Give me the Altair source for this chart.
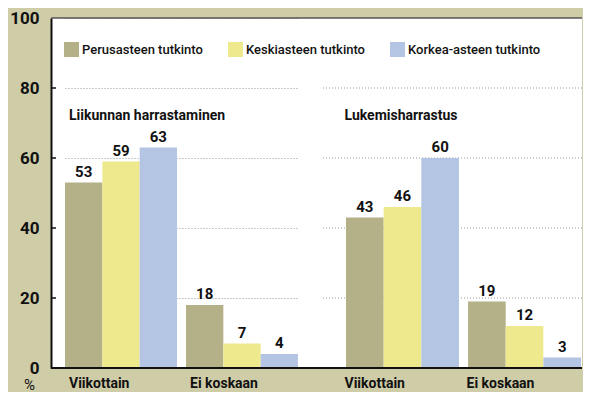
import altair as alt
import pandas as pd

SERIES = ["Perusasteen tutkinto", "Keskiasteen tutkinto", "Korkea-asteen tutkinto"]
COLORS = ["#b4b189", "#eee98d", "#b4c4e3"]
FREQ = ["Viikottain", "Ei koskaan"]
SECTIONS = ["Liikunnan harrastaminen", "Lukemisharrastus"]
LIIKUNTA_VIIKOTTAIN = [53, 59, 63]
LIIKUNTA_EI_KOSKAAN = [18, 7, 4]
LUKEMINEN_VIIKOTTAIN = [43, 46, 60]
LUKEMINEN_EI_KOSKAAN = [19, 12, 3]
Y_TICKS = [0, 20, 40, 60, 80, 100]

FONT = "Roboto"
BG = "#cfcca8"
H = 350


def frame(weekly, never):
    rows = []
    for f, vals in zip(FREQ, [weekly, never]):
        for s, v in zip(SERIES, vals):
            rows.append({"freq": f, "series": s, "value": v})
    return pd.DataFrame(rows)


df_a = frame(LIIKUNTA_VIIKOTTAIN, LIIKUNTA_EI_KOSKAAN)
df_b = frame(LUKEMINEN_VIIKOTTAIN, LUKEMINEN_EI_KOSKAAN)

yscale = alt.Scale(domain=[0, 100], nice=False, zero=True)
legend = alt.Legend(
    orient="none", legendX=13, legendY=24, direction="horizontal", title=None,
    symbolType="square", symbolSize=225, symbolStrokeWidth=0, labelFontSize=13,
    labelFont=FONT, labelFontWeight=500, labelColor="#111", columnPadding=25,
    labelOffset=3, padding=0,
)
color = alt.Color("series:N", scale=alt.Scale(domain=SERIES, range=COLORS), legend=legend)
xoff = alt.XOffset("series:N", scale=alt.Scale(domain=SERIES, paddingInner=0, paddingOuter=0))

y_axis = alt.Axis(
    values=Y_TICKS, title="%", titleAngle=0, titleX=-22, titleY=H + 16,
    titleAlign="center", titleBaseline="middle", titleFontSize=15, titleFont=FONT,
    titleFontWeight="normal", titleColor="#111",
    grid=True, gridDash=[1, 2], gridColor="#999", gridWidth=1,
    labelFontSize=17, labelFont=FONT, labelFontWeight="bold", labelColor="#111",
    labelPadding=12, ticks=False, domain=True, domainColor="#111", domainWidth=2,
)


def panel(df, section, width, x_range, pad_inner, label_offset, y_ax, left_side):
    xs = alt.Scale(domain=FREQ, range=x_range, paddingInner=pad_inner, paddingOuter=0)
    x_axis = alt.Axis(
        orient="bottom", title=None, labelAlign="left", labelOffset=label_offset,
        labelAngle=0, labelBaseline="top", labelPadding=8, ticks=False, domain=False,
        labelFontSize=14, labelFont=FONT,
        labelFontWeight="bold", labelColor="#111", grid=False,
    )
    layers = []
    if not left_side:
        grid_df = pd.DataFrame({"value": Y_TICKS[1:-1]})
        layers.append(
            alt.Chart(grid_df).mark_rule(color="#999", strokeWidth=1, strokeDash=[1, 2]).encode(
                y=alt.Y("value:Q", scale=yscale, axis=y_ax)
            )
        )
    bars = alt.Chart(df).mark_bar().encode(
        x=alt.X("freq:N", scale=xs, axis=x_axis),
        xOffset=xoff,
        y=alt.Y("value:Q", scale=yscale, axis=y_ax),
        color=color,
    )
    texts = alt.Chart(df).mark_text(
        baseline="alphabetic", dy=-6, fontSize=15, font=FONT, fontWeight="bold", color="#111"
    ).encode(
        x=alt.X("freq:N", scale=xs, axis=x_axis),
        xOffset=xoff,
        y=alt.Y("value:Q", scale=yscale, axis=y_ax),
        text="value:Q",
    )
    title_df = pd.DataFrame({"freq": [FREQ[0]], "label": [section], "pos": [71]})
    title = alt.Chart(title_df).mark_text(
        align="left", baseline="alphabetic", dx=label_offset, fontSize=14, font=FONT,
        fontWeight="bold", color="#111"
    ).encode(
        x=alt.X("freq:N", scale=xs, axis=x_axis),
        y=alt.Y("pos:Q", scale=yscale, axis=y_ax),
        text="label:N",
    )
    top_rule = alt.Chart(pd.DataFrame({"value": [Y_TICKS[-1]]})).mark_rule(
        color="#555", strokeWidth=1.5
    ).encode(y=alt.Y("value:Q", scale=yscale, axis=y_ax))
    base_rule = alt.Chart(pd.DataFrame({"value": [Y_TICKS[0]]})).mark_rule(
        color="#111", strokeWidth=2
    ).encode(y=alt.Y("value:Q", scale=yscale, axis=y_ax))
    layers += [bars, texts, title, top_rule, base_rule]
    if left_side:
        tick_df = pd.DataFrame({"value": Y_TICKS[1:-1]})
        ticks = alt.Chart(tick_df).mark_rule(color="#111", strokeWidth=1.5).encode(
            y=alt.Y("value:Q", scale=yscale, axis=y_ax),
            x=alt.value(0),
            x2=alt.value(5),
        )
        layers.append(ticks)
    return alt.layer(*layers).properties(width=width, height=H)


left = panel(df_a, SECTIONS[0], 271, [14, 247], 0.0744, -52, y_axis, True)
right = panel(df_b, SECTIONS[1], 260, [24, 259], 0.0744, -58, None, False)

chart = alt.hconcat(left, right, spacing=0, bounds="flush").resolve_scale(
    x="independent", xOffset="independent", color="shared"
).properties(
    background=BG,
    padding={"left": 1, "top": 1, "right": 0, "bottom": 0},
).configure(font=FONT).configure_view(stroke=None, fill="white")

chart.save("out.html", embed_options={"renderer": "svg", "actions": False})
